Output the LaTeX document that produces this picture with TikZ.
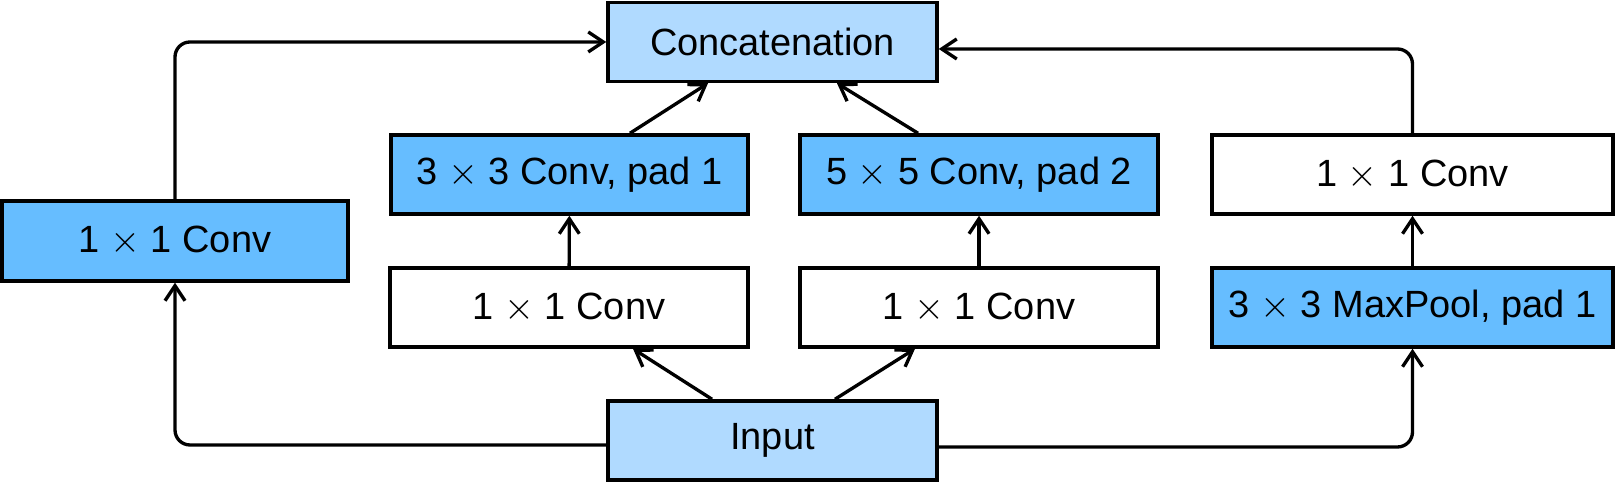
\documentclass[tikz,border=0pt]{standalone}
\usepackage{fontspec}
\setmainfont{Liberation Sans}
\usepackage{tikz}
\usetikzlibrary{arrows.meta}
\usepackage{xcolor}
\definecolor{deepblue}{HTML}{66BDFF}
\definecolor{paleblue}{HTML}{B0DAFF}

\begin{document}
\begin{tikzpicture}[x=0.1mm, y=-0.1mm,
    box/.style = {draw, line width=1pt, inner sep=0pt, minimum height=7.9mm, font=\fontsize{10.8pt}{13pt}\selectfont},
    iobox/.style = {box, fill=paleblue, minimum width=32.9mm},
    convbox/.style = {box, fill=deepblue},
    plainbox/.style = {box, fill=white},
    link/.style = {line width=0.95pt, -{Straight Barb[length=1.5mm, width=2mm, line width=0.95pt]}, rounded corners=1.5mm}]
	\useasboundingbox (0,0) rectangle (1617,483);
		\node[iobox] (concat) at (772.5,42) {Concatenation};
		\node[iobox] (input) at (772.5,440.5) {Input};
		\node[convbox, minimum width=34.6mm, minimum height=8mm] (c1) at (175,241) {1 $\times$ 1 Conv};
		\node[convbox, minimum width=35.7mm] (c3) at (569.5,174.5) {3 $\times$ 3 Conv, pad 1};
		\node[convbox, minimum width=35.8mm] (c5) at (979,174.5) {5 $\times$ 5 Conv, pad 2};
		\node[plainbox, minimum width=40.1mm] (cp) at (1412.5,174.5) {1 $\times$ 1 Conv};
		\node[plainbox, minimum width=35.8mm] (r3) at (569,307.5) {1 $\times$ 1 Conv};
		\node[plainbox, minimum width=35.8mm] (r5) at (979,307.5) {1 $\times$ 1 Conv};
		\node[convbox, minimum width=40.1mm] (pool) at (1412.5,307.5) {3 $\times$ 3 MaxPool, pad 1};
		% input to the four paths
		\draw[link] ([yshift=-0.45mm]input.west) -| (c1.south);
		\draw[link] ([xshift=-6.05mm]input.north) -- ([xshift=6.4mm]r3.south);
		\draw[link] ([xshift=6.25mm]input.north) -- ([xshift=-6.4mm]r5.south);
		\draw[link] ([yshift=-0.65mm]input.east) -| (pool.south);
		% middle layers
		\draw[link] (r3) -- (c3);
		\draw[link] (r5) -- (c5);
		\draw[link] (pool) -- (cp);
		% into the concatenation
		\draw[link] (c1.north) |- (concat.west);
		\draw[link] ([xshift=6.05mm]c3.north) -- ([xshift=-6.45mm]concat.south);
		\draw[link] ([xshift=-6.1mm]c5.north) -- ([xshift=6.45mm]concat.south);
		\draw[link] (cp.north) |- ([yshift=-0.7mm]concat.east);
	\end{tikzpicture}
\end{document}
